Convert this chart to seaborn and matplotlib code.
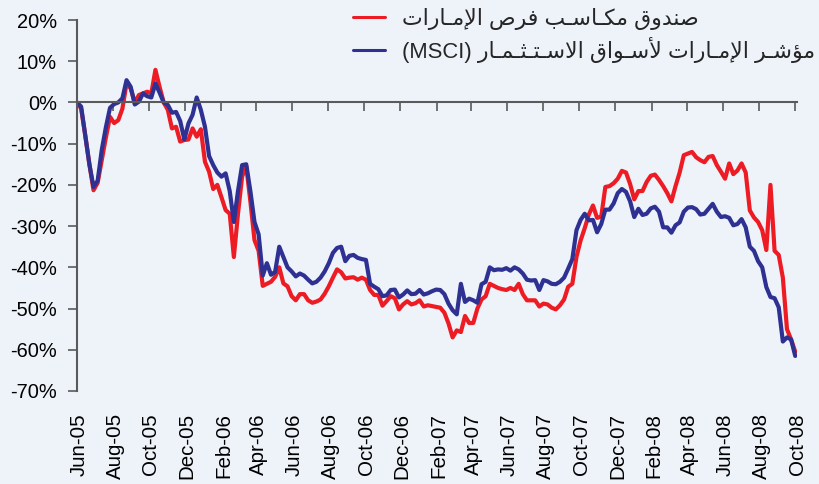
import numpy as np
import pandas as pd
import matplotlib
matplotlib.use("Agg")
import matplotlib.pyplot as plt
import matplotlib.dates as mdates
from matplotlib.transforms import ScaledTranslation
import seaborn as sns

# ---------------- data ----------------
fund_name = "صندوق مكـاسـب فرص الإمـارات"
index_name = "مؤشـر الإمـارات لأسـواق الاسـتـثـمـار"
index_suffix = "(MSCI)"

first_week = "2005-06-01"   # weekly observations

fund_values = [
    0, -1.5, -8, -15, -21.3, -19.5, -14, -8.5, -3.5, -5,
    -4.3, -1.5, 4.6, 3.4, 0, 1.8, 2.2, 2.6, 2.2, 7.9,
    3.8, 0, -1.8, -6.3, -5.9, -9.5, -9.1, -9, -6.3, -8.3,
    -6.5, -14.4, -16.8, -21, -20, -23, -26.1, -27, -37.5, -27,
    -18, -15.5, -24, -33.4, -36, -44.5, -44, -43.5, -42.3, -40,
    -43.9, -44.6, -47, -48, -46.5, -46.5, -48, -48.6, -48.3, -47.8,
    -46.4, -44.6, -42.5, -40.5, -41.2, -42.7, -42.5, -42.4, -43, -42.5,
    -43, -45.5, -46.7, -46.7, -49.3, -48.2, -47, -47.5, -50.2, -49,
    -48.2, -49, -48.7, -48, -49.5, -49.2, -49.4, -49.6, -49.8, -51,
    -53.6, -57, -55.3, -55.7, -51.8, -53.5, -53.5, -50, -47.8, -47,
    -44, -44.5, -45, -45.3, -45.5, -45, -45.5, -44, -46.5, -48,
    -48, -48, -49.5, -48.8, -49, -49.8, -50.2, -49.2, -47.8, -44.7,
    -44, -37.5, -33.5, -30.5, -27.2, -25, -28, -27.7, -20.5, -20.3,
    -19.6, -18.5, -16.6, -17, -19.8, -23.5, -21.5, -21.5, -19.3, -17.8,
    -17.5, -18.8, -20.3, -22, -24, -20.3, -17, -12.8, -12.4, -12,
    -13.3, -14, -14.5, -13.2, -13, -15.2, -16.8, -18.5, -14.8, -17.4,
    -16.5, -14.8, -17, -26.2, -27.9, -29, -31, -35.8, -20, -36,
    -37, -42.5, -55, -57.5, -60.5,
]

index_values = [
    0, -1, -8, -15, -20.5, -19, -11.5, -6, -1.3, -0.4,
    0, 1, 5.4, 3.8, -0.5, 0.2, 2.2, 1.5, 1.2, 4.6,
    2.4, 0, -0.6, -2.5, -2.3, -4.5, -9, -5.1, -3, 1.2,
    -1.8, -5.9, -13, -15.2, -17, -18, -17.2, -21.5, -29, -21.5,
    -15.2, -15, -21.5, -29, -32, -42, -39, -41.8, -41.1, -35,
    -37.5, -40, -41, -42.2, -41.5, -42, -43, -43.9, -43.5, -42.5,
    -41, -39, -36.5, -35.3, -35, -38.5, -37.2, -37, -37.7, -38,
    -38.2, -44, -44.7, -45.3, -47, -46.8, -45.5, -45.4, -47.3, -46.6,
    -45.6, -46.5, -46.4, -45.5, -46.6, -46.3, -45.8, -45.4, -45.5, -46.5,
    -48.8, -50.4, -51.4, -44, -48.4, -47.6, -48, -48.6, -44.1, -43.5,
    -40, -40.7, -40.5, -40.6, -40.2, -40.8, -40, -40.5, -41.5, -43,
    -43.2, -43.1, -45.5, -43.1, -43.4, -44, -44.1, -43.5, -42.5, -40.3,
    -38, -31, -28.5, -27, -28.6, -28.5, -31.5, -29.5, -26, -26,
    -24.5, -22, -21, -21.7, -24, -27.8, -25.8, -27.3, -27, -25.7,
    -25.3, -26.5, -30.3, -30.3, -31.6, -29.8, -29.1, -26.5, -25.5, -25.4,
    -25.9, -27.2, -27, -25.8, -24.6, -26.5, -27.8, -27.6, -28, -29.8,
    -29.5, -28.3, -30.3, -35, -36, -38.5, -40, -44.8, -47.2, -47.5,
    -49.7, -58, -57, -57.5, -61.5,
]

tick_dates = ["2005-06-01", "2005-08-01", "2005-10-01", "2005-12-01",
              "2006-02-01", "2006-04-01", "2006-06-01", "2006-08-01",
              "2006-10-01", "2006-12-01", "2007-02-01", "2007-04-01",
              "2007-06-01", "2007-08-01", "2007-10-01", "2007-12-01",
              "2008-02-01", "2008-04-01", "2008-06-01", "2008-08-01",
              "2008-10-01"]
tick_labels = ["Jun-05", "Aug-05", "Oct-05", "Dec-05", "Feb-06", "Apr-06",
               "Jun-06", "Aug-06", "Oct-06", "Dec-06", "Feb-07", "Apr-07",
               "Jun-07", "Aug-07", "Oct-07", "Dec-07", "Feb-08", "Apr-08",
               "Jun-08", "Aug-08", "Oct-08"]
y_ticks = [20, 10, 0, -10, -20, -30, -40, -50, -60, -70]
y_tick_labels = ["20%", "10%", "0%", "-10%", "-20%", "-30%", "-40%",
                 "-50%", "-60%", "-70%"]

# ---------------- Arabic shaping (matplotlib has no complex text layout) ----
_FORMS = {
    '\u0627': ('\uFE8D', '\uFE8E', None, None),
    '\u0623': ('\uFE83', '\uFE84', None, None),
    '\u0625': ('\uFE87', '\uFE88', None, None),
    '\u0624': ('\uFE85', '\uFE86', None, None),
    '\u0628': ('\uFE8F', '\uFE90', '\uFE91', '\uFE92'),
    '\u062A': ('\uFE95', '\uFE96', '\uFE97', '\uFE98'),
    '\u062B': ('\uFE99', '\uFE9A', '\uFE9B', '\uFE9C'),
    '\u062F': ('\uFEA9', '\uFEAA', None, None),
    '\u0631': ('\uFEAD', '\uFEAE', None, None),
    '\u0633': ('\uFEB1', '\uFEB2', '\uFEB3', '\uFEB4'),
    '\u0634': ('\uFEB5', '\uFEB6', '\uFEB7', '\uFEB8'),
    '\u0635': ('\uFEB9', '\uFEBA', '\uFEBB', '\uFEBC'),
    '\u0641': ('\uFED1', '\uFED2', '\uFED3', '\uFED4'),
    '\u0642': ('\uFED5', '\uFED6', '\uFED7', '\uFED8'),
    '\u0643': ('\uFED9', '\uFEDA', '\uFEDB', '\uFEDC'),
    '\u0644': ('\uFEDD', '\uFEDE', '\uFEDF', '\uFEE0'),
    '\u0645': ('\uFEE1', '\uFEE2', '\uFEE3', '\uFEE4'),
    '\u0646': ('\uFEE5', '\uFEE6', '\uFEE7', '\uFEE8'),
    '\u0648': ('\uFEED', '\uFEEE', None, None),
    '\u0640': ('\u0640', '\u0640', '\u0640', '\u0640'),
}
_LAM_ALEF = {'\u0627': ('\uFEFB', '\uFEFC'),
             '\u0623': ('\uFEF7', '\uFEF8'),
             '\u0625': ('\uFEF9', '\uFEFA')}


def shape_arabic(text):
    units = []
    i = 0
    while i < len(text):
        c = text[i]
        if c == '\u0644' and i + 1 < len(text) and text[i + 1] in _LAM_ALEF:
            units.append(('LA', text[i + 1]))
            i += 2
        else:
            units.append(('C', c))
            i += 1

    def joins_next(u):
        if u[0] == 'LA':
            return False
        f = _FORMS.get(u[1])
        return f is not None and f[2] is not None

    def joins_prev(u):
        return u[0] == 'LA' or u[1] in _FORMS

    out = []
    for k, u in enumerate(units):
        pj = k > 0 and joins_next(units[k - 1]) and joins_prev(u)
        nj = k + 1 < len(units) and joins_next(u) and joins_prev(units[k + 1])
        if u[0] == 'LA':
            iso, fin = _LAM_ALEF[u[1]]
            out.append(fin if pj else iso)
            continue
        f = _FORMS.get(u[1])
        if f is None:
            out.append(u[1])
        elif pj and nj:
            out.append(f[3])
        elif pj:
            out.append(f[1])
        elif nj:
            out.append(f[2])
        else:
            out.append(f[0])
    return ''.join(out[::-1])


# ---------------- plot ----------------
BG = "#eef3fa"
RED = "#ed1c24"
BLUE = "#2e3192"
AXC = "#5a5a5a"

sns.set_theme(style="white")
plt.rcParams['font.family'] = ['Liberation Sans', 'DejaVu Sans']

dates = pd.date_range(first_week, periods=len(fund_values), freq="7D")
df = pd.DataFrame({"date": dates, "fund": fund_values, "index": index_values})

fig = plt.figure(figsize=(8.2, 4.84), dpi=100, facecolor=BG)
W, H = 820, 484
ax = fig.add_axes([77 / W, 1 - 391 / H, (797 - 77) / W, (391 - 20) / H])
ax.set_facecolor(BG)

lbl_fund = shape_arabic(fund_name)
lbl_index = index_suffix + " " + shape_arabic(index_name)

sns.lineplot(data=df, x="date", y="fund", ax=ax, color=RED, linewidth=3.0,
             label=lbl_fund)
sns.lineplot(data=df, x="date", y="index", ax=ax, color=BLUE, linewidth=3.0,
             label=lbl_index)

ax.set_xlim(pd.Timestamp("2005-06-01"), pd.Timestamp("2008-10-04"))
ax.set_ylim(-70, 20)
ax.set_xlabel("")
ax.set_ylabel("")

# y axis
ax.set_yticks(y_ticks)
ax.set_yticklabels(y_tick_labels)
ax.tick_params(axis='y', direction='out', length=6.5, width=1.2, color=AXC,
               labelsize=14.4, pad=8, left=True, labelcolor='black')

# x axis: line at 0 with tick marks, labels at bottom
tick_nums = mdates.date2num(pd.to_datetime(tick_dates))
ax.spines['bottom'].set_position(('data', 0))
ax.spines['bottom'].set_color(AXC)
ax.spines['bottom'].set_linewidth(1.5)
ax.spines['left'].set_color(AXC)
ax.spines['left'].set_linewidth(1.5)
ax.spines['top'].set_visible(False)
ax.spines['right'].set_visible(False)
ax.set_xticks(tick_nums)
ax.tick_params(axis='x', direction='out', length=6.5, width=1.2, color=AXC,
               labelbottom=False, bottom=True)

sec = ax.secondary_xaxis('bottom')
sec.set_xticks(tick_nums, labels=tick_labels)
sec.tick_params(axis='x', length=0, pad=16, labelsize=14.8,
                labelcolor='black')
sec.spines['bottom'].set_visible(False)
for t in sec.get_xticklabels():
    t.set_rotation(90)
    t.set_transform(t.get_transform() +
                    ScaledTranslation(2 / 100, 0, fig.dpi_scale_trans))

leg = ax.legend(loc='upper left', bbox_to_anchor=(353 / W, 1 - 8 / H),
                bbox_transform=fig.transFigure, frameon=False,
                prop={'family': ['Liberation Sans', 'DejaVu Sans'],
                      'size': 15.8},
                handlelength=1.45, handletextpad=0.8, labelspacing=0.32,
                borderpad=0, borderaxespad=0)
for h in leg.get_lines():
    h.set_linewidth(2.2)

fig.savefig("out.png", dpi=100, facecolor=BG)
